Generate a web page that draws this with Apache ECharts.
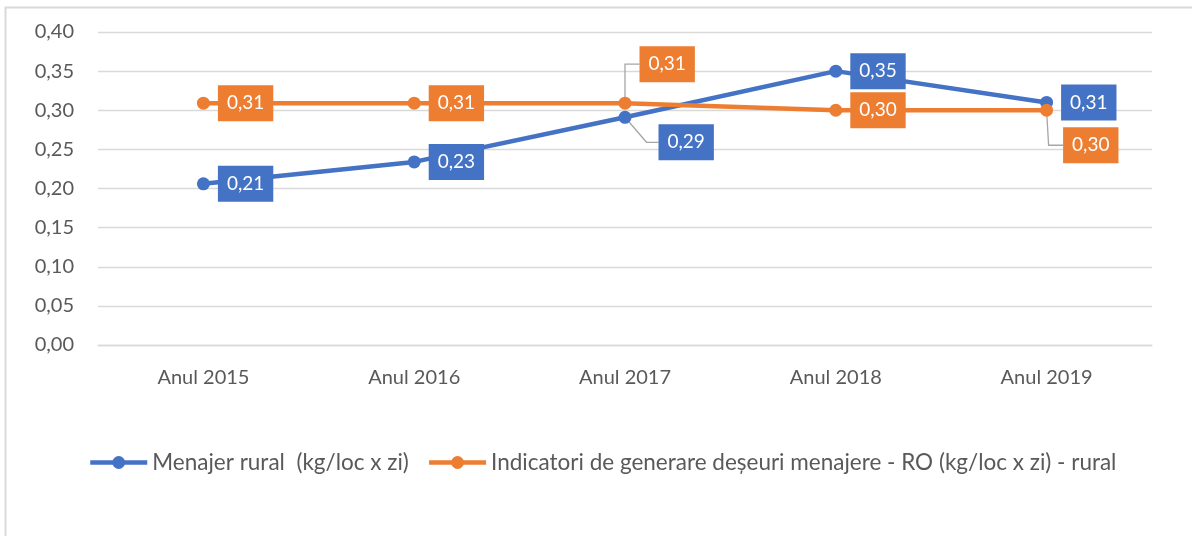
<!DOCTYPE html>
<html lang="ro">
<head>
    <meta charset="UTF-8">
    <title>Deseuri menajere rural</title>
    <script src="https://cdn.jsdelivr.net/npm/echarts@6.0.0/dist/echarts.min.js"></script>
    <style>
        html, body { margin: 0; padding: 0; background: #fff; }
    </style>
</head>
<body>
    <div id="main" style="width: 1192px;height:536px;"></div>
    <script type="text/javascript">
        // date
        const categories = ['Anul 2015', 'Anul 2016', 'Anul 2017', 'Anul 2018', 'Anul 2019'];
        const menajerRural = [0.206, 0.234, 0.291, 0.350, 0.310];
        const indicatoriRO = [0.309, 0.309, 0.309, 0.300, 0.300];
        const seriesNames = [
            'Menajer rural  (kg/loc x zi)',
            'Indicatori de generare deșeuri menajere - RO (kg/loc x zi) - rural'
        ];
        const colors = ['#4472C4', '#ED7D31'];

        const fmt = (v) => v.toFixed(2).replace('.', ',');
        const font = 'Lato';

        // etichete mutate, cu linie de ghidare: [serie, index] -> offset
        const moved = {
            '0-2': [19, 25],
            '1-2': [0, -39],
            '1-4': [2, 35]
        };

        function makeData(values, s) {
            return values.map((v, i) => {
                const off = moved[s + '-' + i];
                return off ? { value: v, label: { offset: off } } : v;
            });
        }

        function makeSeries(values, s) {
            return {
                name: seriesNames[s],
                type: 'line',
                data: makeData(values, s),
                symbol: 'circle',
                symbolSize: 13,
                lineStyle: { width: 4.5, color: colors[s] },
                itemStyle: { color: colors[s] },
                label: {
                    show: true,
                    position: 'right',
                    distance: 8,
                    formatter: (p) => fmt(p.value),
                    color: '#fff',
                    fontFamily: font,
                    fontSize: 19,
                    lineHeight: 22,
                    backgroundColor: colors[s],
                    padding: [7, 9, 7, 9]
                }
            };
        }

        let myChart = echarts.init(document.getElementById('main'));

        let options = {
            animation: false,
            textStyle: { fontFamily: font },
            grid: {
                left: 98, right: 40, top: 32, bottom: 191,
                outerBoundsMode: 'none'
            },
            legend: {
                left: 83,
                top: 446,
                itemWidth: 57,
                itemHeight: 16,
                itemGap: 18,
                lineStyle: { width: 4.5 },
                textStyle: { color: '#595959', fontSize: 22.5, fontFamily: font },
                data: seriesNames
            },
            xAxis: {
                type: 'category',
                data: categories,
                axisLine: { lineStyle: { color: '#d9d9d9', width: 1.3 } },
                axisTick: { show: false },
                axisLabel: { color: '#595959', fontSize: 20, margin: 23 }
            },
            yAxis: {
                type: 'value',
                min: 0,
                max: 0.4,
                interval: 0.05,
                axisLine: { show: false },
                axisTick: { show: false },
                axisLabel: { color: '#595959', fontSize: 20, margin: 24, formatter: fmt },
                splitLine: { lineStyle: { color: '#d9d9d9', width: 1.3 } }
            },
            series: [makeSeries(menajerRural, 0), makeSeries(indicatoriRO, 1)]
        };

        myChart.setOption(options);

        // chenarul graficului si liniile de ghidare ale etichetelor mutate
        const guides = [];
        [menajerRural, indicatoriRO].forEach((values, s) => {
            values.forEach((v, i) => {
                const off = moved[s + '-' + i];
                if (!off) return;
                const [px, py] = myChart.convertToPixel({ seriesIndex: s }, [i, v]);
                const boxLeft = px + 6.5 + 8 + off[0];
                const cy = py + off[1];
                const elbowX = s === 0 ? boxLeft - 12 : px + off[0];
                guides.push({
                    type: 'polyline',
                    z: 1,
                    shape: { points: [[px, py], [elbowX, cy], [boxLeft, cy]] },
                    style: { stroke: '#a6a6a6', lineWidth: 1.3, fill: null }
                });
            });
        });

        myChart.setOption({
            graphic: [{
                type: 'rect',
                z: 0,
                shape: { x: 5.5, y: 7.5, width: 1200, height: 540 },
                style: { fill: null, stroke: '#d9d9d9', lineWidth: 2 }
            }].concat(guides)
        });
    </script>
</body>
</html>
